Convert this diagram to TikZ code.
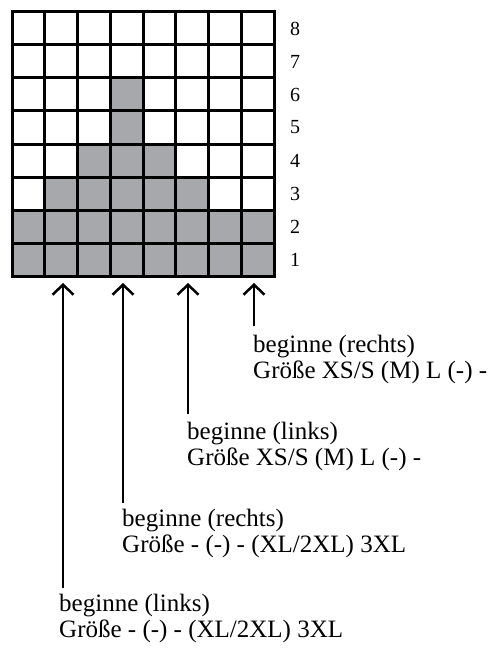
\documentclass[tikz,border=0pt]{standalone}
\usepackage{fontspec}
\setmainfont{Liberation Serif}
\usetikzlibrary{arrows.meta}
\definecolor{stitchgray}{RGB}{167,168,172}
\tikzset{
  cellfill/.style={fill=stitchgray, draw=none},
  gridline/.style={line width=3pt, line cap=rect},
  startarrow/.style={line width=2.5pt, -{Straight Barb[length=10pt,width=21pt,line width=2.5pt]}},
  label/.style={anchor=base west, inner sep=0pt, font=\fontsize{25}{26}\selectfont},
  rownum/.style={inner sep=0pt, font=\fontsize{20}{20}\selectfont}
}
\begin{document}
\begin{tikzpicture}[x=1pt, y=-1pt]
  \useasboundingbox (0,0) rectangle (490,650);
  % grid geometry: origin (12,12), cell 32.75 x 33
  \def\cw{32.75}
  \def\ch{33}
  % shaded cells: (column, row from bottom)
  \foreach \c/\r in {1/1,2/1,3/1,4/1,5/1,6/1,7/1,8/1,
                     1/2,2/2,3/2,4/2,5/2,6/2,7/2,8/2,
                     2/3,3/3,4/3,5/3,6/3,
                     3/4,4/4,5/4,
                     4/5,4/6}
    \fill[cellfill] ({12+(\c-1)*\cw},{12+(8-\r)*\ch}) rectangle ({12+\c*\cw},{12+(9-\r)*\ch});
  % grid lines
  \foreach \i in {0,...,8} {
    \draw[gridline] ({12+\i*\cw},12) -- ({12+\i*\cw},{12+8*\ch});
    \draw[gridline] (12,{12+\i*\ch}) -- ({12+8*\cw},{12+\i*\ch});
  }
  % row numbers
  \foreach \r in {1,...,8}
    \node[rownum] (row\r) at (295,{12+(8.5-\r)*\ch}) {\r};

  % arrow tips below the grid and their tails above the labels
  \coordinate (t1) at (63,283);  \coordinate (e1) at (63,588);
  \coordinate (t2) at (123,283); \coordinate (e2) at (123,503);
  \coordinate (t3) at (188,283); \coordinate (e3) at (188,414);
  \coordinate (t4) at (254,283); \coordinate (e4) at (254,326);

  \draw[startarrow] (e1) -- (t1);
  \draw[startarrow] (e2) -- (t2);
  \draw[startarrow] (e3) -- (t3);
  \draw[startarrow] (e4) -- (t4);

  % labels
  \node[label] (l4a) at (253,352) {beginne (rechts)};
  \node[label] (l4b) at (253,378) {Größe XS/S (M) L (-) -};
  \node[label] (l3a) at (187,439) {beginne (links)};
  \node[label] (l3b) at (187,465) {Größe XS/S (M) L (-) -};
  \node[label] (l2a) at (122,526) {beginne (rechts)};
  \node[label] (l2b) at (122,552) {Größe - (-) - (XL/2XL) 3XL};
  \node[label] (l1a) at (59,611) {beginne (links)};
  \node[label] (l1b) at (59,637) {Größe - (-) - (XL/2XL) 3XL};
\end{tikzpicture}
\end{document}
